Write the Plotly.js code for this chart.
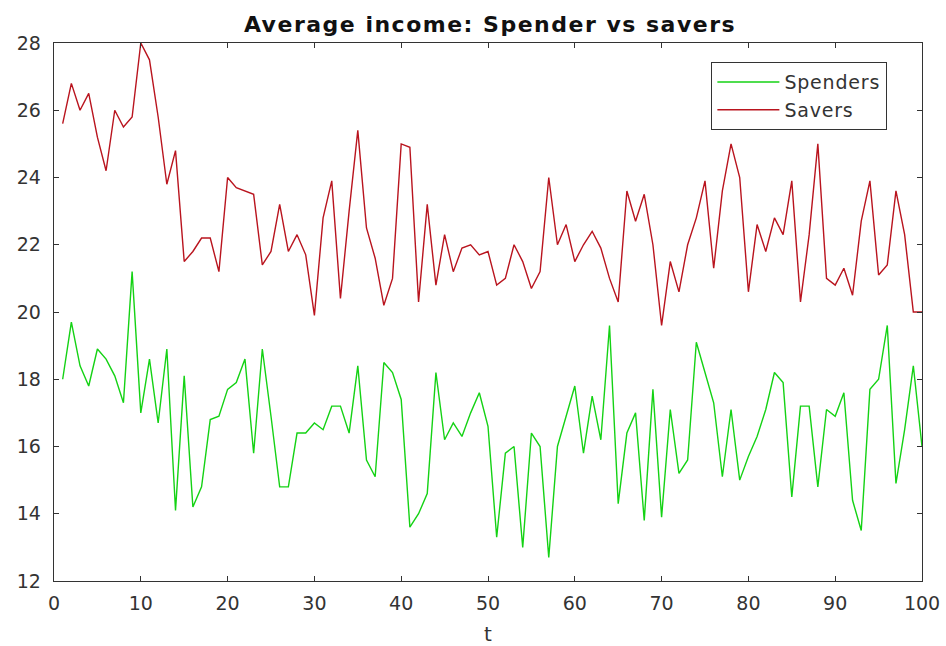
<!DOCTYPE html>
<html>
<head>
<meta charset="utf-8">
<script src="https://cdn.plot.ly/plotly-3.0.1.min.js"></script>
<style>html,body{margin:0;padding:0;background:#fff;}#chart{width:946px;height:646px;}
.gtitle{letter-spacing:1.5px;}
.legendtext{letter-spacing:0.8px;}</style>
</head>
<body>
<div id="chart"></div>
<script>
const t = Array.from({length: 100}, (_, i) => i + 1);
const spenders = [
18.0,19.7,18.4,17.8,18.9,18.6,18.1,17.3,21.2,17.0,
18.6,16.7,18.9,14.1,18.1,14.2,14.8,16.8,16.9,17.7,
17.9,18.6,15.8,18.9,16.9,14.8,14.8,16.4,16.4,16.7,
16.5,17.2,17.2,16.4,18.4,15.6,15.1,18.5,18.2,17.4,
13.6,14.0,14.6,18.2,16.2,16.7,16.3,17.0,17.6,16.6,
13.3,15.8,16.0,13.0,16.4,16.0,12.7,16.0,16.9,17.8,
15.8,17.5,16.2,19.6,14.3,16.4,17.0,13.8,17.7,13.9,
17.1,15.2,15.6,19.1,18.2,17.3,15.1,17.1,15.0,15.7,
16.3,17.1,18.2,17.9,14.5,17.2,17.2,14.8,17.1,16.9,
17.6,14.4,13.5,17.7,18.0,19.6,14.9,16.5,18.4,16.0];
const savers = [
25.6,26.8,26.0,26.5,25.2,24.2,26.0,25.5,25.8,28.0,
27.5,25.8,23.8,24.8,21.5,21.8,22.2,22.2,21.2,24.0,
23.7,23.6,23.5,21.4,21.8,23.2,21.8,22.3,21.7,19.9,
22.8,23.9,20.4,23.0,25.4,22.5,21.6,20.2,21.0,25.0,
24.9,20.3,23.2,20.8,22.3,21.2,21.9,22.0,21.7,21.8,
20.8,21.0,22.0,21.5,20.7,21.2,24.0,22.0,22.6,21.5,
22.0,22.4,21.9,21.0,20.3,23.6,22.7,23.5,22.0,19.6,
21.5,20.6,22.0,22.8,23.9,21.3,23.6,25.0,24.0,20.6,
22.6,21.8,22.8,22.3,23.9,20.3,22.3,25.0,21.0,20.8,
21.3,20.5,22.7,23.9,21.1,21.4,23.6,22.3,20.0,20.0];
const xTicks = [0,10,20,30,40,50,60,70,80,90,100];
const yTicks = [12,14,16,18,20,22,24,26,28];

const FONT = 'DejaVu Sans, Verdana, sans-serif';
const traces = [
  {x: t, y: spenders, name: 'Spenders', type: 'scatter', mode: 'lines',
   line: {color: 'rgb(20,210,20)', width: 1.4}},
  {x: t, y: savers, name: 'Savers', type: 'scatter', mode: 'lines',
   line: {color: 'rgb(185,20,30)', width: 1.4}}
];
const axisCommon = {
  showgrid: false, zeroline: false, showline: true, mirror: 'ticks',
  linecolor: '#333', linewidth: 1.3, ticks: 'inside', ticklen: 5,
  tickcolor: '#333', tickfont: {family: FONT, size: 19, color: '#333'}
};
const layout = {
  width: 946, height: 646,
  margin: {l: 54, r: 24, t: 43, b: 65},
  paper_bgcolor: '#fff', plot_bgcolor: '#fff',
  title: {text: '<b>Average income: Spender vs savers</b>', x: 0.518, xanchor: 'center', y: 0.963, yanchor: 'middle',
    font: {family: FONT, size: 22, color: '#111'}},
  xaxis: Object.assign({}, axisCommon, {range: [0, 100], tickvals: xTicks, ticktext: xTicks.map(String),
    ticklabelstandoff: 5,
    title: {text: 't', font: {family: FONT, size: 20, color: '#333'}, standoff: 14}}),
  yaxis: Object.assign({}, axisCommon, {range: [12, 28], tickvals: yTicks, ticktext: yTicks.map(String),
    ticklabelstandoff: 8}),
  showlegend: true,
  legend: {x: 0.757, y: 0.965, xanchor: 'left', yanchor: 'top', bgcolor: '#fff',
    bordercolor: '#333', borderwidth: 1.3, itemwidth: 62,
    font: {family: FONT, size: 19, color: '#333'}}
};
Plotly.newPlot('chart', traces, layout, {displayModeBar: false, staticPlot: true});
</script>
</body>
</html>
